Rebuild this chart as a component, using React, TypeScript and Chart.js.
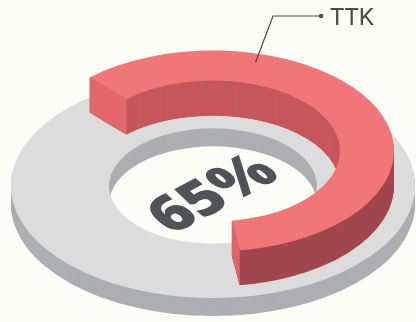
import React, { useEffect, useRef } from 'react';
import { Chart, registerables, ArcElement } from 'chart.js';

Chart.register(...registerables);

// ---- data ----
const categories = ['TTK', ''];
const values = [65, 35];
const baseValues = [100];
const centerLabel = '65%';
const seriesLabel = 'TTK';

// ---- layout / style constants ----
const W = 416;
const H = 322;
const CX = 213;
const PLANE_Y = 186;
const K = 0.555;
const BASE_IN = 104;
const BASE_OUT = 202;
const BASE_H = 18;
const RING_IN = 127;
const RING_OUT = 181;
const RING_H = 35;
const BG = '#FDFDF7';
const GRAY_TOP = '#DCDCDC';
const GRAY_SIDE = '#ADAEB1';
const RED_TOP = '#F07678';
const RED_OUTER = '#A2474F';
const RED_INNER = '#C6575B';
const RED_CAP_START = '#E2686B';
const RED_CAP_END = '#DE666A';
const TEXT_COLOR = '#4E5358';
const LABEL_COLOR = '#4A4A4A';

const iso3d = {
  id: 'iso3d',
  afterDatasetsUpdate(chart: any) {
    chart.data.datasets.forEach((_ds: any, i: number) => {
      const meta = chart.getDatasetMeta(i);
      const ri = i === 0 ? BASE_IN : RING_IN;
      const ro = i === 0 ? BASE_OUT : RING_OUT;
      meta.data.forEach((a: any) => {
        a.x = 0;
        a.y = 0;
        a.innerRadius = ri;
        a.outerRadius = ro;
      });
    });
  },
  beforeDatasetsDraw(chart: any) {
    const ctx: CanvasRenderingContext2D = chart.ctx;
    const drawArc = (arc: any, color: string, yc: number) => {
      const tmp = Object.create(arc);
      tmp.options = { ...arc.options, backgroundColor: color, borderWidth: 0, offset: 0 };
      ctx.save();
      ctx.translate(CX, yc);
      ctx.scale(1, K);
      (ArcElement.prototype as any).draw.call(tmp, ctx);
      ctx.restore();
    };
    // base plate
    const base = chart.getDatasetMeta(0).data[0];
    for (let h = BASE_H; h >= 1; h--) drawArc(base, GRAY_SIDE, PLANE_Y + h);
    drawArc(base, GRAY_TOP, PLANE_Y);

    // raised ring
    const ring = chart.getDatasetMeta(1).data[0];
    const topY = PLANE_Y - RING_H;
    for (let h = 0; h < RING_H; h++) drawArc(ring, RED_OUTER, PLANE_Y - h);
    ctx.save();
    ctx.beginPath();
    ctx.ellipse(CX, topY, RING_IN, RING_IN * K, 0, 0, Math.PI * 2);
    ctx.clip();
    for (let h = 0; h < RING_H; h++) drawArc(ring, RED_INNER, PLANE_Y - h);
    ctx.restore();

    const pt = (ang: number, r: number, yc: number) => [CX + r * Math.cos(ang), yc + K * r * Math.sin(ang)];
    const cap = (ang: number, color: string) => {
      const a = pt(ang, RING_IN, topY);
      const b = pt(ang, RING_OUT, topY);
      const c = pt(ang, RING_OUT, PLANE_Y);
      const d = pt(ang, RING_IN, PLANE_Y);
      ctx.save();
      ctx.fillStyle = color;
      ctx.beginPath();
      ctx.moveTo(a[0], a[1]);
      ctx.lineTo(b[0], b[1]);
      ctx.lineTo(c[0], c[1]);
      ctx.lineTo(d[0], d[1]);
      ctx.closePath();
      ctx.fill();
      ctx.restore();
    };
    const s = ring.startAngle;
    const e = ring.endAngle;
    if (Math.cos(s) < 0) cap(s, RED_CAP_START);
    if (Math.cos(e) > 0) cap(e, RED_CAP_END);
    drawArc(ring, RED_TOP, topY);
    return false;
  },
  afterDraw(chart: any) {
    const ctx: CanvasRenderingContext2D = chart.ctx;
    // center label (lying on the plate: rotated + skewed)
    ctx.save();
    ctx.translate(214, 195);
    ctx.rotate((-28 * Math.PI) / 180);
    ctx.transform(1, 0, 0.4, 1, 0, 0);
    ctx.scale(0.95, 0.9);
    ctx.font = '800 62px "Open Sans"';
    ctx.fillStyle = TEXT_COLOR;
    ctx.textAlign = 'center';
    ctx.textBaseline = 'middle';
    ctx.fillText(centerLabel, 0, 0);
    ctx.restore();

    // leader line + series label
    const ring = chart.getDatasetMeta(1).data[0];
    const ang = ring.startAngle + 0.27 * (ring.endAngle - ring.startAngle);
    const r = RING_IN + 0.71 * (RING_OUT - RING_IN);
    const ax = CX + r * Math.cos(ang);
    const ay = PLANE_Y - RING_H + K * r * Math.sin(ang);
    ctx.save();
    ctx.strokeStyle = LABEL_COLOR;
    ctx.lineWidth = 1.2;
    ctx.beginPath();
    ctx.moveTo(ax, ay);
    ctx.lineTo(273, 16);
    ctx.lineTo(321, 16);
    ctx.stroke();
    ctx.fillStyle = LABEL_COLOR;
    ctx.beginPath();
    ctx.arc(321, 16, 2.2, 0, Math.PI * 2);
    ctx.fill();
    ctx.font = '24px Roboto';
    ctx.textAlign = 'left';
    ctx.textBaseline = 'alphabetic';
    ctx.fillText(seriesLabel, 330, 25);
    ctx.restore();
  },
};

export default function App() {
  const ref = useRef<HTMLCanvasElement>(null);
  useEffect(() => {
    if (!ref.current) return;
    const chart = new Chart(ref.current, {
      type: 'doughnut',
      data: {
        labels: categories,
        datasets: [
          { label: 'base', data: baseValues, backgroundColor: [GRAY_TOP], borderWidth: 0 },
          {
            label: seriesLabel,
            data: values,
            backgroundColor: [RED_TOP, 'rgba(0,0,0,0)'],
            borderWidth: 0,
            rotation: -43,
            circumference: 330,
          },
        ],
      },
      options: {
        responsive: false,
        maintainAspectRatio: false,
        devicePixelRatio: 1,
        animation: false,
        events: [],
        layout: { padding: 0 },
        plugins: { legend: { display: false }, tooltip: { enabled: false } },
      },
      plugins: [iso3d],
    } as any);
    return () => chart.destroy();
  }, []);
  return (
    <div style={{ position: 'fixed', left: 0, top: 0, width: W, height: H, background: BG }}>
      <canvas ref={ref} width={W} height={H} style={{ display: 'block', width: W, height: H }} />
    </div>
  );
}
